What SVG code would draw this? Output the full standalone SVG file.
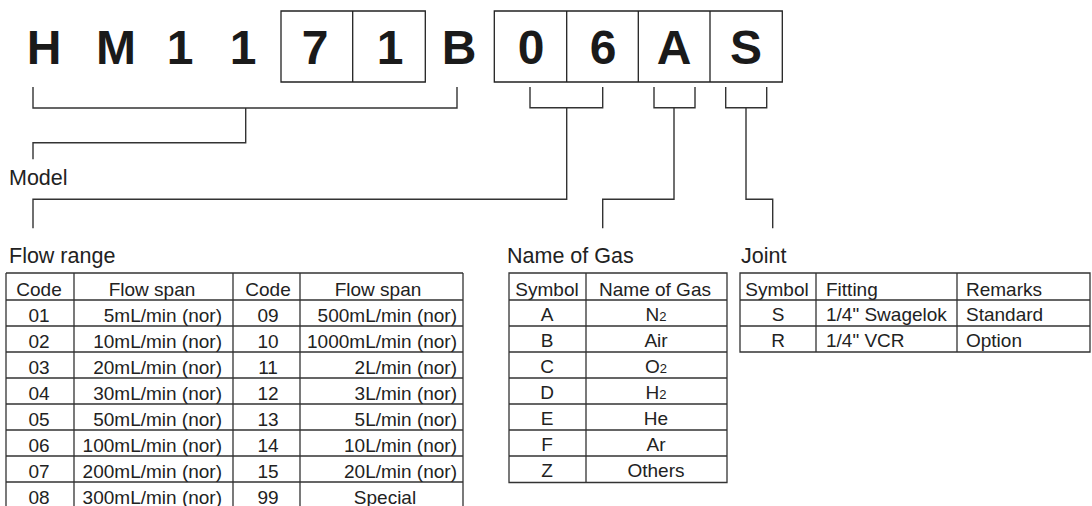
<svg xmlns="http://www.w3.org/2000/svg" width="1092" height="506" viewBox="0 0 1092 506">
<style>
.big{font-family:"Liberation Sans",Arial,sans-serif;font-weight:bold;font-size:48px;fill:#1a1a1a;text-anchor:middle}
.lbl{font-family:"Liberation Sans",Arial,sans-serif;font-size:21.5px;fill:#222}
.t{font-family:"Liberation Sans",Arial,sans-serif;font-size:19px;fill:#222}
.c{text-anchor:middle}
.r{text-anchor:end}
.box{fill:none;stroke:#222;stroke-width:1.3}
.grid{fill:none;stroke:#333;stroke-width:1.3}
.br{fill:none;stroke:#333;stroke-width:1.4}
</style>
<rect width="1092" height="506" fill="#fff"/>
<g id="model-code">
<path class="box" d="M281,11H425.3V82H281Z M352.7,11V82 M494.3,11H782.3V82H494.3Z M566.7,11V82 M638.3,11V82 M710,11V82"/>
<text class="big" x="44" y="64">H</text>
<text class="big" x="116" y="64">M</text>
<text class="big" x="180" y="64">1</text>
<text class="big" x="243" y="64">1</text>
<text class="big" x="315" y="64">7</text>
<text class="big" x="390" y="64">1</text>
<text class="big" x="459" y="64">B</text>
<text class="big" x="531" y="64">0</text>
<text class="big" x="603" y="64">6</text>
<text class="big" x="674" y="64">A</text>
<text class="big" x="746" y="64">S</text>
</g>
<g id="connectors">
<path class="br" d="M33,87V108H457V87 M245.7,108V142.7H33V159.3"/>
<path class="br" d="M530,87V107.7H602.7V87 M566.7,107.7V199.3H33V228.3"/>
<path class="br" d="M654,87V107.7H695V87 M674,107.7V199.3H602.7V228.3"/>
<path class="br" d="M725.7,87V107.7H766.7V87 M746,107.7V199.3H772.7V228.3"/>
</g>
<g id="label-model"><text class="lbl" x="9" y="185">Model</text></g>
<g id="flow-range">
<text class="lbl" x="9" y="263">Flow range</text>
<path class="grid" d="M6,273H463 M6,300H463 M6,326H463 M6,352H463 M6,378H463 M6,404H463 M6,430H463 M6,456H463 M6,482H463 M6,273V508 M74,273V508 M233,273V508 M300,273V508 M463,273V508"/>
<text class="t c" x="39" y="296">Code</text>
<text class="t c" x="152" y="296">Flow span</text>
<text class="t c" x="268" y="296">Code</text>
<text class="t c" x="378" y="296">Flow span</text>
<g class="t">
<text class="c" x="39" y="321.5">01</text><text class="r" x="222" y="321.5">5mL/min (nor)</text>
<text class="c" x="39" y="347.5">02</text><text class="r" x="222" y="347.5">10mL/min (nor)</text>
<text class="c" x="39" y="373.5">03</text><text class="r" x="222" y="373.5">20mL/min (nor)</text>
<text class="c" x="39" y="399.5">04</text><text class="r" x="222" y="399.5">30mL/min (nor)</text>
<text class="c" x="39" y="425.5">05</text><text class="r" x="222" y="425.5">50mL/min (nor)</text>
<text class="c" x="39" y="451.5">06</text><text class="r" x="222" y="451.5">100mL/min (nor)</text>
<text class="c" x="39" y="477.5">07</text><text class="r" x="222" y="477.5">200mL/min (nor)</text>
<text class="c" x="39" y="503.5">08</text><text class="r" x="222" y="503.5">300mL/min (nor)</text>
<text class="c" x="268" y="321.5">09</text><text class="r" x="457" y="321.5">500mL/min (nor)</text>
<text class="c" x="268" y="347.5">10</text><text class="r" x="457" y="347.5">1000mL/min (nor)</text>
<text class="c" x="268" y="373.5">11</text><text class="r" x="457" y="373.5">2L/min (nor)</text>
<text class="c" x="268" y="399.5">12</text><text class="r" x="457" y="399.5">3L/min (nor)</text>
<text class="c" x="268" y="425.5">13</text><text class="r" x="457" y="425.5">5L/min (nor)</text>
<text class="c" x="268" y="451.5">14</text><text class="r" x="457" y="451.5">10L/min (nor)</text>
<text class="c" x="268" y="477.5">15</text><text class="r" x="457" y="477.5">20L/min (nor)</text>
<text class="c" x="268" y="503.5">99</text><text class="c" x="385" y="503.5">Special</text>
</g>
</g>
<g id="name-of-gas">
<text class="lbl" x="507" y="263">Name of Gas</text>
<path class="grid" d="M509,273H727V482.5H509Z M509,300H727 M509,326H727 M509,352H727 M509,378H727 M509,404H727 M509,430H727 M509,456H727 M586,273V482.5"/>
<g class="t c">
<text x="547" y="296">Symbol</text><text x="655" y="296">Name of Gas</text>
<text x="547" y="321">A</text><text x="656" y="321">N<tspan font-size="13">2</tspan></text>
<text x="547" y="347">B</text><text x="656" y="347">Air</text>
<text x="547" y="373">C</text><text x="656" y="373">O<tspan font-size="13">2</tspan></text>
<text x="547" y="399">D</text><text x="656" y="399">H<tspan font-size="13">2</tspan></text>
<text x="547" y="425">E</text><text x="656" y="425">He</text>
<text x="547" y="451">F</text><text x="656" y="451">Ar</text>
<text x="547" y="477">Z</text><text x="656" y="477">Others</text>
</g>
</g>
<g id="joint">
<text class="lbl" x="741" y="263">Joint</text>
<path class="grid" d="M740,273H1090V352H740Z M740,300H1090 M740,326H1090 M816,273V352 M957,273V352"/>
<g class="t">
<text class="c" x="777" y="296">Symbol</text><text x="826" y="296">Fitting</text><text x="966" y="296">Remarks</text>
<text class="c" x="778" y="321">S</text><text x="826" y="321">1/4" Swagelok</text><text x="966" y="321">Standard</text>
<text class="c" x="778" y="347">R</text><text x="826" y="347">1/4" VCR</text><text x="966" y="347">Option</text>
</g>
</g>
</svg>
